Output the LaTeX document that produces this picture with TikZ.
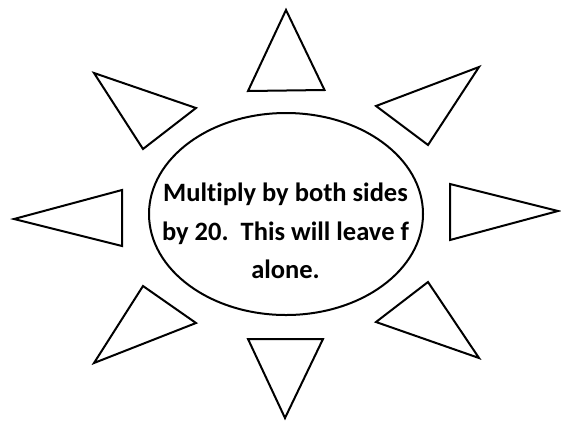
\documentclass[tikz,border=0pt]{standalone}
\usepackage{fontspec}
\setmainfont{Carlito}[Ligatures=NoCommon]
\usetikzlibrary{shapes.geometric}
\begin{document}
\begin{tikzpicture}[x=1pt,y=-1pt,
  ray/.style={draw=black,line width=2pt,line join=miter},
  sunbody/.style={draw=black,line width=2pt,ellipse,minimum width=274pt,minimum height=202pt,inner sep=0pt},
  suntext/.style={align=center,font=\fontsize{26.5}{38.5}\selectfont\bfseries,inner sep=0pt}]
\useasboundingbox[fill=white] (0,0) rectangle (561,421);
\node[sunbody] (sun) at (286,214) {};
\node[suntext] (msg) at (285.5,231) {Multiply by both sides\\by 20.\ \ This will leave f\\alone.};
% rays
\draw[ray] (286,10) -- (324.5,90) -- (248,91) -- cycle;
\draw[ray] (94,73) -- (196,108) -- (143,149) -- cycle;
\draw[ray] (479,67) -- (376,106) -- (428,145) -- cycle;
\draw[ray] (14,219) -- (122,190) -- (122,246) -- cycle;
\draw[ray] (558,211) -- (450,184) -- (450,240) -- cycle;
\draw[ray] (143,286) -- (196,323) -- (94,363) -- cycle;
\draw[ray] (428,282) -- (376,322) -- (479,358) -- cycle;
\draw[ray] (248,339) -- (323,339) -- (285,418) -- cycle;
\end{tikzpicture}
\end{document}
